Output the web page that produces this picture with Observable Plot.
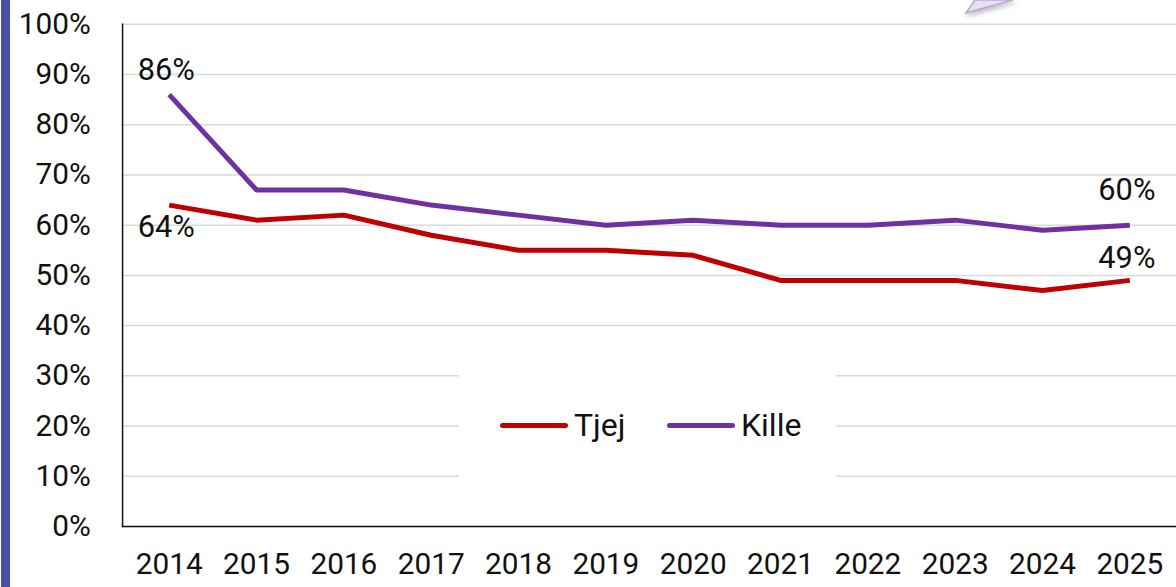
<!DOCTYPE html>
<html>
<head>
<meta charset="utf-8">
<script src="https://cdn.jsdelivr.net/npm/d3@7"></script>
<script src="https://cdn.jsdelivr.net/npm/@observablehq/plot@0.6"></script>
<style>
  html, body { margin: 0; padding: 0; background: #fff; overflow: hidden; }
  #wrap { position: relative; width: 1176px; height: 587px; overflow: hidden; font-family: Roboto, "Open Sans", sans-serif; }
  #chart { position: absolute; left: 0; top: 0; }
  #bar { position: absolute; left: 1px; top: 0; width: 9px; height: 587px; background: #4b50a5; }
  #legend { position: absolute; left: 459px; top: 355px; width: 377px; height: 140px; background: #fff; }
  .item { position: absolute; top: 51px; display: flex; align-items: center; font-size: 32px; color: #111; }
  .swatch { width: 68px; height: 5px; border-radius: 3px; margin-right: 6px; }
  #deco { position: absolute; left: 955px; top: -2px; }
</style>
</head>
<body>
<div id="wrap">
  <div id="chart"></div>
  <div id="bar"></div>
  <svg id="deco" width="70" height="24">
    <defs><filter id="sh" x="-50%" y="-50%" width="200%" height="200%"><feDropShadow dx="2" dy="3" stdDeviation="2" flood-color="#888" flood-opacity="0.5"/></filter></defs>
    <polygon points="11,15 20,2 58,2" fill="#e8e0f2" stroke="#b8a6d3" stroke-width="1.5" filter="url(#sh)"/>
  </svg>
  <div id="legend"></div>
</div>
<script>
const years = ["2014","2015","2016","2017","2018","2019","2020","2021","2022","2023","2024","2025"];
const tjej  = [64, 61, 62, 58, 55, 55, 54, 49, 49, 49, 47, 49];
const kille = [86, 67, 67, 64, 62, 60, 61, 60, 60, 61, 59, 60];
const seriesNames = ["Tjej", "Kille"];
const seriesColors = ["#c00000", "#7030a0"];
const yTicks = [0, 10, 20, 30, 40, 50, 60, 70, 80, 90, 100];

const rows = [];
years.forEach((y, i) => {
  rows.push({year: y, series: "Tjej", value: tjej[i]});
  rows.push({year: y, series: "Kille", value: kille[i]});
});

const labels = [
  {year: years[0], series: "Kille", value: kille[0], dy: -25},
  {year: years[0], series: "Tjej", value: tjej[0], dy: 22},
  {year: years[years.length-1], series: "Kille", value: kille[kille.length-1], dy: -35},
  {year: years[years.length-1], series: "Tjej", value: tjej[tjej.length-1], dy: -22}
];

const font = "Roboto, 'Open Sans', sans-serif";
const plot = Plot.plot({
  width: 1185,
  height: 587,
  marginLeft: 123,
  marginRight: 0,
  marginTop: 24,
  marginBottom: 57,
  style: {fontFamily: font, fontSize: "31px", color: "#111", background: "transparent"},
  x: {type: "point", domain: years, padding: 0.5, label: null},
  y: {domain: [0, 100], label: null},
  color: {domain: seriesNames, range: seriesColors},
  marks: [
    Plot.gridY(yTicks, {stroke: "#d9d9d9", strokeOpacity: 1, strokeWidth: 1.5}),
    Plot.axisY(yTicks, {tickSize: 0, tickPadding: 32, tickFormat: d => d + "%", fontSize: 30, label: null}),
    Plot.axisX({tickSize: 0, tickPadding: 27, fontSize: 30, label: null}),
    Plot.frame({anchor: "left", stroke: "#111", strokeWidth: 1.5}),
    Plot.frame({anchor: "bottom", stroke: "#111", strokeWidth: 1.5}),
    Plot.line(rows, {x: "year", y: "value", z: "series", stroke: "series", strokeWidth: 5, strokeLinejoin: "miter", strokeLinecap: "butt"}),
    ...labels.map(l => Plot.text([l], {x: "year", y: "value", text: d => d.value + "%", dy: l.dy, dx: -3, fontSize: 31, fill: "#111"}))
  ]
});
document.getElementById("chart").appendChild(plot);

const legend = document.getElementById("legend");
seriesNames.forEach((name, i) => {
  const item = document.createElement("div");
  item.className = "item";
  item.style.left = (i === 0 ? 41 : 208) + "px";
  const sw = document.createElement("div");
  sw.className = "swatch";
  sw.style.background = seriesColors[i];
  const tx = document.createElement("span");
  tx.textContent = name;
  item.appendChild(sw);
  item.appendChild(tx);
  legend.appendChild(item);
});
</script>
</body>
</html>
